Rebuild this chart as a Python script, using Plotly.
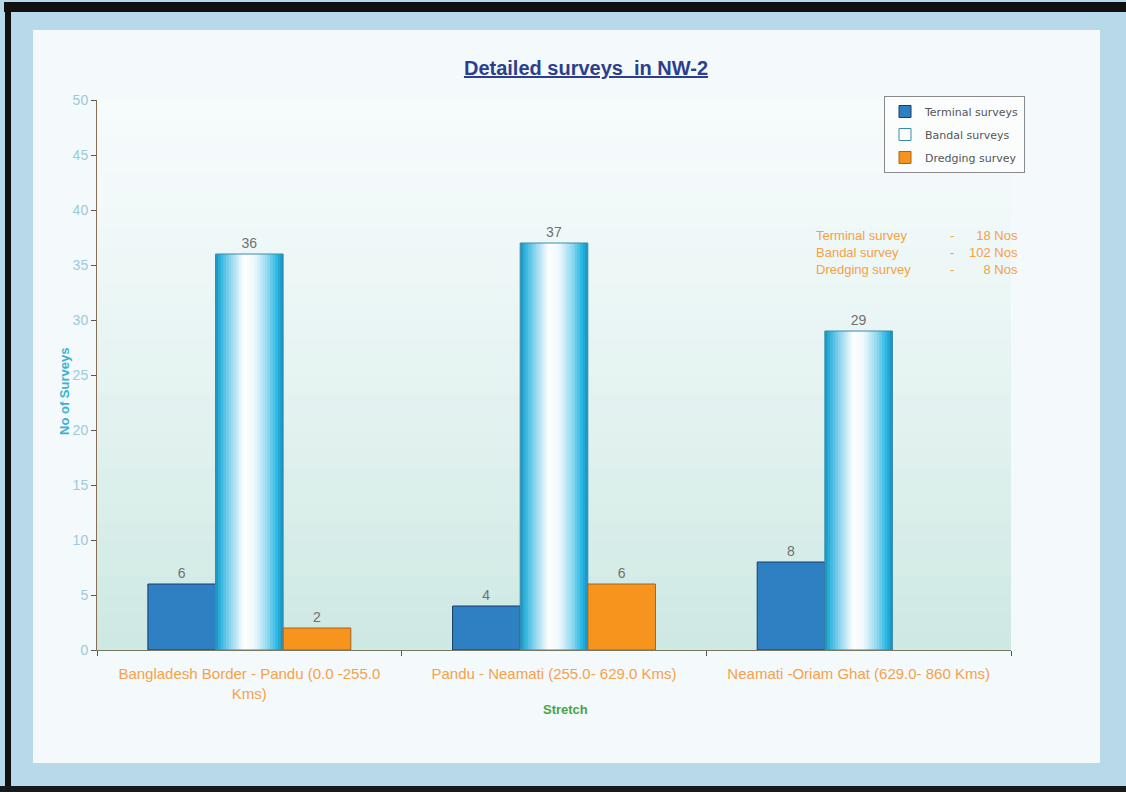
import plotly.graph_objects as go

# ---- data ----
stretches = [
    "Bangladesh Border - Pandu (0.0 -255.0 Kms)",
    "Pandu - Neamati (255.0- 629.0 Kms)",
    "Neamati -Oriam Ghat (629.0- 860 Kms)",
]
stretch_tick_labels = [
    "Bangladesh Border - Pandu (0.0 -255.0<br>Kms)",
    "Pandu - Neamati (255.0- 629.0 Kms)",
    "Neamati -Oriam Ghat (629.0- 860 Kms)",
]
terminal_surveys = [6, 4, 8]
bandal_surveys = [36, 37, 29]
dredging_surveys = [2, 6, None]

series_names = ["Terminal surveys", "Bandal surveys", "Dredging survey"]
summary_labels = ["Terminal survey", "Bandal survey", "Dredging survey"]

# ---- page geometry (pixels) ----
W, H = 1126, 792
L, R, T, B = 97, 1011, 100, 650
PW, PH = R - L, B - T


def px_x(px):
    return (px - L) / PW


def px_y(py):
    return (B - py) / PH


FONT = "Liberation Sans, Arial, sans-serif"
LEG_FONT = "DejaVu Sans, Verdana, sans-serif"
BAR_W = 0.222
label_font = dict(color="#707070", size=14, family=FONT)

fig = go.Figure()

# Terminal surveys
fig.add_trace(go.Bar(
    name=series_names[0], legendgroup="t", x=stretches, y=terminal_surveys,
    offset=-1.5 * BAR_W, width=BAR_W,
    marker=dict(color="#2f80c3", line=dict(color="#1c3c66", width=1)),
    text=[str(v) for v in terminal_surveys], textposition="outside",
    textfont=label_font, constraintext="none", cliponaxis=False,
))


# Bandal surveys: cylinder shading built from narrow vertical slices
def hex2rgb(h):
    h = h.lstrip("#")
    return tuple(int(h[i:i + 2], 16) for i in (0, 2, 4))


stops = [(0.0, "#1890bd"), (0.07, "#2fb3de"), (0.22, "#8fd5ee"),
         (0.42, "#ffffff"), (0.58, "#eef8fc"), (0.78, "#8ad6ef"),
         (0.9, "#2fbbe6"), (1.0, "#168fbf")]


def shade(t):
    for (t0, c0), (t1, c1) in zip(stops[:-1], stops[1:]):
        if t0 <= t <= t1:
            f = (t - t0) / (t1 - t0) if t1 > t0 else 0
            a, b = hex2rgb(c0), hex2rgb(c1)
            return "rgb(%d,%d,%d)" % tuple(round(a[k] + (b[k] - a[k]) * f) for k in range(3))
    return stops[-1][1]


N = 26
sw = BAR_W / N
for i in range(N):
    w = sw * 1.4 if i < N - 1 else sw
    fig.add_trace(go.Bar(
        x=stretches, y=bandal_surveys, offset=-0.5 * BAR_W + i * sw, width=w,
        marker=dict(color=shade((i + 0.5) / N), line=dict(width=0)),
        showlegend=False, hoverinfo="skip", legendgroup="b",
    ))

fig.add_trace(go.Bar(
    name=series_names[1], legendgroup="b", x=stretches, y=bandal_surveys,
    offset=-0.5 * BAR_W, width=BAR_W,
    marker=dict(color="rgba(255,255,255,0)", line=dict(color="#3b8ca6", width=1)),
    text=[str(v) for v in bandal_surveys], textposition="outside",
    textfont=label_font, constraintext="none", cliponaxis=False,
))

# Dredging survey
fig.add_trace(go.Bar(
    name=series_names[2], legendgroup="d", x=stretches, y=dredging_surveys,
    offset=0.5 * BAR_W, width=BAR_W,
    marker=dict(color="#f7941d", line=dict(color="#a8621a", width=1)),
    text=["" if v is None else str(v) for v in dredging_surveys], textposition="outside",
    textfont=label_font, constraintext="none", cliponaxis=False,
))

# ---- background: frame, card and soft gradient in the plot area ----
shapes = []
shapes.append(dict(type="rect", xref="paper", yref="paper",
                   x0=px_x(33), x1=px_x(1100), y0=px_y(763), y1=px_y(30),
                   fillcolor="#f4f9fb", line=dict(width=0), layer="below"))
nb = 30
top_c, bot_c = hex2rgb("#f6fbfc"), hex2rgb("#cde8e2")
for j in range(nb):
    f = (j + 0.5) / nb
    f2 = f ** 1.3
    col = "rgb(%d,%d,%d)" % tuple(round(top_c[k] + (bot_c[k] - top_c[k]) * f2) for k in range(3))
    shapes.append(dict(type="rect", xref="paper", yref="paper",
                       x0=0, x1=1, y0=1 - (j + 1) / nb - 0.002, y1=1 - j / nb,
                       fillcolor=col, line=dict(width=0), layer="below"))
# dark border lines of the frame
shapes.append(dict(type="rect", xref="paper", yref="paper",
                   x0=px_x(4), x1=px_x(W + 5), y0=px_y(12), y1=px_y(2),
                   fillcolor="#111111", line=dict(width=0), layer="below"))
shapes.append(dict(type="rect", xref="paper", yref="paper",
                   x0=px_x(5), x1=px_x(11), y0=px_y(W), y1=px_y(2),
                   fillcolor="#111111", line=dict(width=0), layer="below"))
shapes.append(dict(type="rect", xref="paper", yref="paper",
                   x0=px_x(0), x1=px_x(W + 5), y0=px_y(H + 5), y1=px_y(786),
                   fillcolor="#151a1c", line=dict(width=0), layer="below"))

# ---- text annotations ----
annotations = []
annotations.append(dict(
    text="<b>No of Surveys</b>", xref="paper", yref="paper", x=px_x(64), y=px_y(392),
    textangle=-90, showarrow=False, xanchor="center", yanchor="middle",
    font=dict(color="#3cb1d6", size=13, family=FONT)))
annotations.append(dict(
    text="<b>Stretch</b>", xref="paper", yref="paper", x=px_x(565), y=px_y(709),
    showarrow=False, xanchor="center", yanchor="middle",
    font=dict(color="#48a448", size=13, family=FONT)))

totals = [sum(v for v in s if v is not None)
          for s in (terminal_surveys, bandal_surveys, dredging_surveys)]
orange_txt = dict(color="#f5a043", size=13, family=FONT)
annotations.append(dict(
    text="<br>".join(summary_labels), xref="paper", yref="paper",
    x=px_x(814), y=px_y(252), xanchor="left", yanchor="middle", align="left",
    showarrow=False, font=orange_txt))
annotations.append(dict(
    text="<br>".join(["-"] * 3), xref="paper", yref="paper",
    x=px_x(952), y=px_y(252), xanchor="center", yanchor="middle", align="center",
    showarrow=False, font=orange_txt))
annotations.append(dict(
    text="<br>".join("%d Nos" % t for t in totals), xref="paper", yref="paper",
    x=px_x(1020), y=px_y(252), xanchor="right", yanchor="middle", align="right",
    showarrow=False, font=orange_txt))

fig.update_layout(
    width=W, height=H,
    margin=dict(l=L, r=W - R, t=T, b=H - B),
    paper_bgcolor="#b7d9ea",
    plot_bgcolor="rgba(0,0,0,0)",
    barmode="overlay",
    title=dict(
        text='<span style="text-decoration:underline">Detailed surveys  in NW-2</span>',
        x=586 / W, y=1 - 68 / H, xanchor="center", yanchor="middle",
        font=dict(color="#2b3f8e", size=20, family=FONT, weight="bold")),
    font=dict(family=FONT),
    xaxis=dict(
        tickmode="array", tickvals=stretches, ticktext=stretch_tick_labels,
        tickson="boundaries", ticks="outside", ticklen=5, tickcolor="#555555",
        ticklabelstandoff=10,
        showline=True, linecolor="#7a7664", linewidth=1, showgrid=False,
        tickfont=dict(color="#f4a24a", size=15, family=FONT),
        range=[-0.5, 2.5], fixedrange=True,
    ),
    yaxis=dict(
        range=[0, 50], dtick=5, ticks="outside", ticklen=5, tickcolor="#555555",
        showline=True, linecolor="#8a6e52", linewidth=1, showgrid=False,
        zeroline=False, tickfont=dict(color="#9ccada", size=14, family=FONT),
    ),
    legend=dict(
        x=px_x(884), y=px_y(96), xanchor="left", yanchor="top",
        bgcolor="rgba(255,255,255,0.6)", bordercolor="#8a8a8a", borderwidth=1,
        font=dict(color="#555555", size=11, family=LEG_FONT),
        tracegroupgap=4, itemwidth=30,
    ),
    shapes=shapes,
    annotations=annotations,
    showlegend=True,
)

fig.write_html("out.html")
